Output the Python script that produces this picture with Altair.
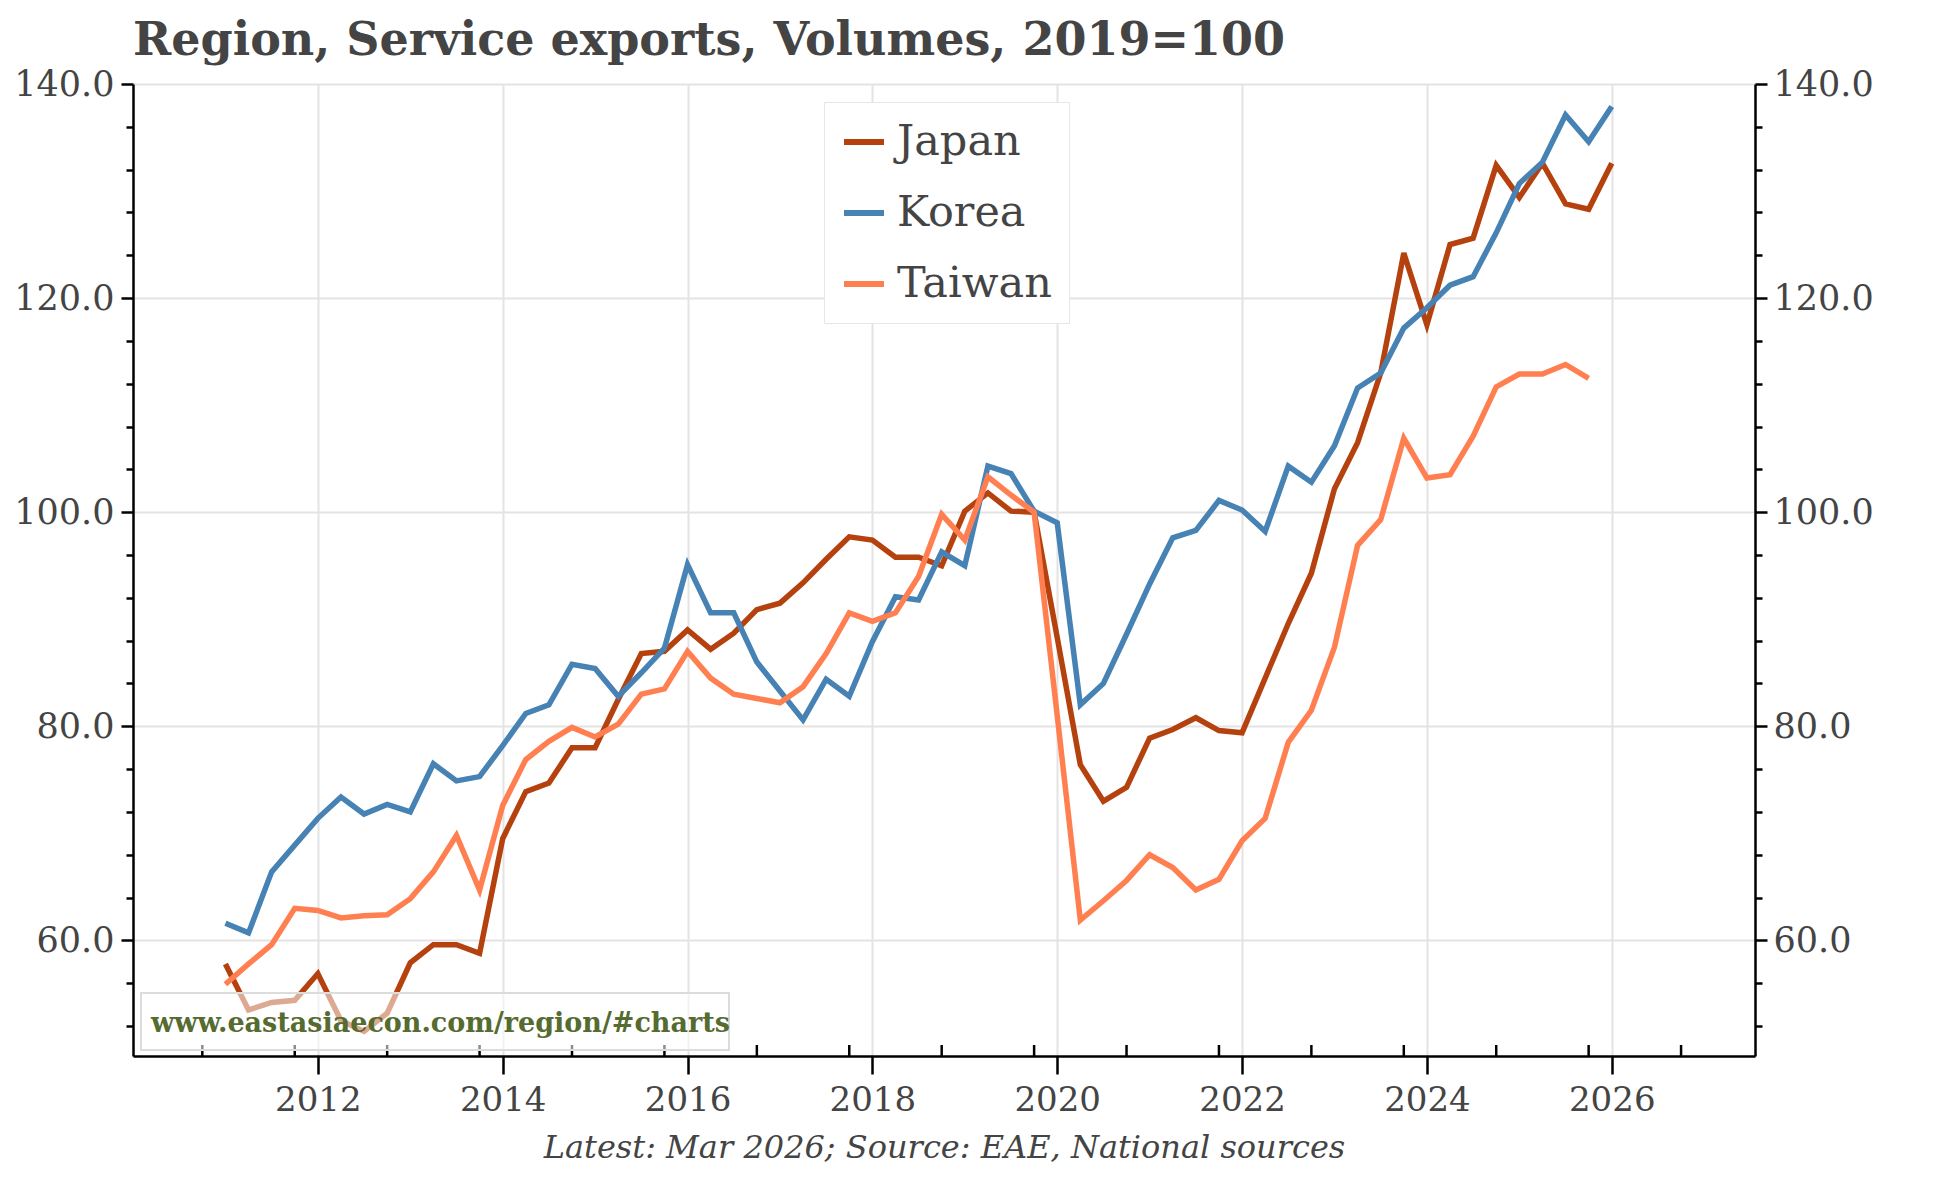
import altair as alt
import pandas as pd

# ---- data (quarterly, first quarter plotted at 2011.0) ----
start_year = 2011
japan = [57.8, 53.5, 54.2, 54.4,
         56.9, 52.5, 51.5, 53.2,
         57.9, 59.6, 59.6, 58.8,
         69.5, 73.9, 74.7, 78.0,
         78.0, 82.5, 86.8, 87.0,
         89.0, 87.2, 88.7, 90.9,
         91.5, 93.4, 95.6, 97.7,
         97.4, 95.8, 95.8, 95.0,
         100.1, 101.8, 100.1, 100.0,
         88.3, 76.4, 73.0, 74.3,
         78.9, 79.7, 80.8, 79.6,
         79.4, 84.5, 89.6, 94.3,
         102.2, 106.5, 113.0, 124.2,
         117.5, 125.0, 125.6, 132.4,
         129.4, 132.6, 128.8, 128.3,
         132.6]
korea = [61.6, 60.7, 66.4, 68.9,
         71.4, 73.4, 71.8, 72.7,
         72.0, 76.5, 74.9, 75.3,
         78.2, 81.2, 82.0, 85.8,
         85.4, 82.8, 85.0, 87.3,
         95.1, 90.6, 90.6, 86.0,
         83.3, 80.6, 84.4, 82.8,
         87.9, 92.1, 91.8, 96.3,
         95.0, 104.3, 103.6, 100.1,
         99.0, 82.0, 84.0, 88.6,
         93.3, 97.6, 98.3, 101.1,
         100.2, 98.2, 104.3, 102.8,
         106.2, 111.6, 113.0, 117.2,
         119.1, 121.2, 122.0, 126.1,
         130.7, 132.7, 137.1, 134.6,
         137.9]
taiwan = [55.9, 57.8, 59.6, 63.0,
          62.8, 62.1, 62.3, 62.4,
          63.9, 66.4, 69.8, 64.7,
          72.6, 76.9, 78.6, 79.9,
          79.0, 80.2, 83.0, 83.5,
          87.0, 84.5, 83.0, 82.6,
          82.2, 83.7, 86.8, 90.6,
          89.8, 90.6, 94.0, 99.8,
          97.4, 103.3, 101.6, 100.0,
          81.0, 61.9, 63.7, 65.6,
          68.0, 66.8, 64.7, 65.7,
          69.3, 71.4, 78.5, 81.5,
          87.4, 96.9, 99.3, 106.9,
          103.2, 103.5, 107.1, 111.7,
          112.9, 112.9, 113.8, 112.5]

series_names = ["Japan", "Korea", "Taiwan"]
series_colors = ["#b5420e", "#4682b4", "#ff7f50"]
year_labels = [2012, 2014, 2016, 2018, 2020, 2022, 2024, 2026]
minor_year_ticks = [y + 0.75 for y in range(2010, 2027)]
y_ticks = list(range(52, 141, 4))

title_text = "Region, Service exports, Volumes, 2019=100"
footer_text = "Latest: Mar 2026; Source: EAE, National sources"
watermark_text = "www.eastasiaecon.com/region/#charts"

rows = []
for name, vals in zip(series_names, [japan, korea, taiwan]):
    for i, v in enumerate(vals):
        rows.append({"date": start_year + i * 0.25, "value": v, "series": name})
df = pd.DataFrame(rows)
minor_df = pd.DataFrame({"t": minor_year_ticks})
one_row = pd.DataFrame({"k": [0]})

W, H = 1622, 972
FONT = "DejaVu Serif"
TXT = "#444444"

x_scale = alt.Scale(domain=[2010, 2027.55], nice=False, zero=False)
y_scale = alt.Scale(domain=[49.2, 140], nice=False, zero=False)

major20 = "datum.value % 20 === 0"

x_axis = alt.Axis(values=year_labels, format="d", title=footer_text,
                  grid=True, gridColor="#e3e3e3", gridWidth=2,
                  domainColor="black", domainWidth=2.5,
                  tickColor="black", tickWidth=2.5, tickSize=18,
                  labelFontSize=34, labelColor=TXT, labelPadding=9, labelFont=FONT,
                  titleFont=FONT, titleFontSize=32, titleFontStyle="italic",
                  titleFontWeight="normal", titleColor=TXT, titlePadding=15)


def y_axis(orient, grid):
    return alt.Axis(orient=orient, values=y_ticks,
                    labelExpr="datum.value % 20 === 0 ? format(datum.value, '.1f') : ''",
                    grid=grid, gridColor="#e3e3e3", gridWidth=2,
                    gridOpacity={"condition": {"test": major20, "value": 1}, "value": 0},
                    tickSize={"condition": {"test": major20, "value": 12}, "value": 7},
                    domainColor="black", domainWidth=2.5,
                    tickColor="black", tickWidth=2.5,
                    labelFontSize=35, labelColor=TXT, labelFont=FONT,
                    labelPadding=7 if orient == "left" else 6, title=None)


lines = alt.Chart(df).mark_line(strokeWidth=5.5).encode(
    x=alt.X("date:Q", scale=x_scale, axis=x_axis),
    y=alt.Y("value:Q", scale=y_scale, axis=y_axis("left", True)),
    color=alt.Color("series:N",
                    scale=alt.Scale(domain=series_names, range=series_colors),
                    legend=alt.Legend(title=None, orient="none", legendX=691, legendY=18,
                                      symbolType="stroke", symbolSize=1600,
                                      symbolStrokeWidth=6, labelFontSize=43,
                                      labelFont=FONT, labelColor=TXT, labelOffset=10,
                                      rowPadding=26, padding=17, strokeColor="#e6e6e6",
                                      fillColor="white", labelLimit=400)),
)

right = alt.Chart(df).mark_line(opacity=0).encode(
    x=alt.X("date:Q", scale=x_scale, axis=x_axis),
    y=alt.Y("value:Q", scale=y_scale, axis=y_axis("right", False)),
    detail="series:N",
)

minor = alt.Chart(minor_df).mark_rule(color="black", strokeWidth=2.5).encode(
    x=alt.X("t:Q", scale=x_scale, axis=x_axis),
    y=alt.value(H - 11), y2=alt.value(H),
)

wm_box = alt.Chart(one_row).mark_rect(fill="white", fillOpacity=0.55,
                                      stroke="#dcdcdc", strokeWidth=2).encode(
    x=alt.value(8), x2=alt.value(596), y=alt.value(909), y2=alt.value(966))

wm_text = alt.Chart(one_row).mark_text(align="left", baseline="alphabetic",
                                       font=FONT, fontSize=27, fontWeight="bold",
                                       color="#556b2f").encode(
    x=alt.value(18), y=alt.value(948), text=alt.value(watermark_text))

chart = alt.layer(lines, right, minor, wm_box, wm_text).resolve_scale(
    y="shared", x="shared").resolve_axis(y="independent").properties(
    width=W, height=H,
    title=alt.TitleParams(title_text, anchor="start", frame="group", font=FONT,
                          fontSize=46, fontWeight="bold", color=TXT, offset=2),
    padding={"left": 5, "right": 5, "top": 10, "bottom": 8},
).configure_view(stroke=None).configure(background="white")

chart.save("out.html", embed_options={"renderer": "svg", "actions": False})
